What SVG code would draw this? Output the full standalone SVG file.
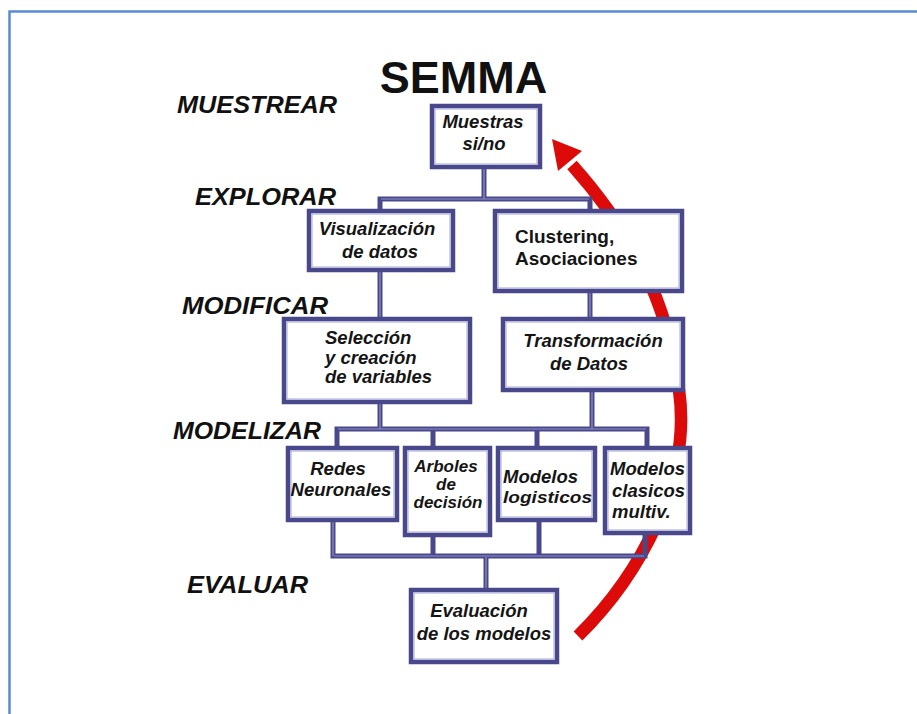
<svg xmlns="http://www.w3.org/2000/svg" width="917" height="714" viewBox="0 0 917 714">
<style>
.box{fill:#fff;stroke:#48488a;stroke-width:4.5}
.inner{fill:none;stroke:#a4a4d8;stroke-width:1}
.con{fill:none;stroke:#48488a;stroke-width:5;stroke-linecap:square}
.conl{fill:none;stroke:#9090cc;stroke-width:1.2}
.t{font-family:"Liberation Sans",Arial,sans-serif;font-weight:bold;font-style:italic;font-size:18.5px;fill:#151515}
.s{font-size:17px}
.c{text-anchor:middle}
.n{font-style:normal;font-size:19px}
.stage{font-family:"Liberation Sans",Arial,sans-serif;font-weight:bold;font-style:italic;font-size:24px;fill:#111}
</style>
<rect x="9.5" y="11.5" width="930" height="730" fill="#fff" stroke="#5b8bd2" stroke-width="2.5"/>
<text x="463.5" y="93" font-family="'Liberation Sans',Arial,sans-serif" font-weight="bold" font-size="45" text-anchor="middle" fill="#111">SEMMA</text>
<g id="stages">
<text class="stage" x="177" y="113" textLength="160" lengthAdjust="spacingAndGlyphs">MUESTREAR</text>
<text class="stage" x="195" y="205" textLength="141" lengthAdjust="spacingAndGlyphs">EXPLORAR</text>
<text class="stage" x="182" y="314" textLength="146" lengthAdjust="spacingAndGlyphs">MODIFICAR</text>
<text class="stage" x="173" y="439" textLength="148" lengthAdjust="spacingAndGlyphs">MODELIZAR</text>
<text class="stage" x="187" y="593" textLength="121" lengthAdjust="spacingAndGlyphs">EVALUAR</text>
</g>
<g id="cycle-arrow">
<path d="M578,636 C640,575 692,480 679,390 C668,300 630,230 572,165" fill="none" stroke="#dd0a0a" stroke-width="12.5"/>
<polygon points="552,139 582,151 558,171" fill="#dd0a0a"/>
</g>
<g id="connectors">
<path class="con" d="M484,167 V199 M380,199 H590 M380,199 V210 M590,199 V210 M380,270 V318 M590,290 V318 M380,402 V429 M592,390 V429 M337,429 H647 M337,429 V448 M433,429 V448 M537,429 V448 M647,429 V448 M333,520 V556 M433,535 V556 M539,520 V556 M645,533 V556 M333,556 H645 M486,556 V590"/>
<path class="conl" d="M484,168 V199 M381,199 H589 M380,271 V317 M590,291 V317 M380,403 V429 M592,391 V429 M338,429 H646 M333,521 V556 M334,556 H644 M486,557 V589"/>
</g>
<g id="n-muestras">
<rect class="box" x="432" y="106" width="108" height="61"/>
<rect class="inner" x="435" y="109" width="102" height="55"/>
<text class="t c" x="483" y="128">Muestras</text>
<text class="t c" x="484" y="150">si/no</text>
</g>
<g id="n-visualizacion">
<rect class="box" x="309" y="211" width="144" height="59"/>
<rect class="inner" x="312" y="214" width="138" height="53"/>
<text class="t c" x="377" y="235">Visualización</text>
<text class="t c" x="380" y="258">de datos</text>
</g>
<g id="n-clustering">
<rect class="box" x="495" y="211" width="187" height="80"/>
<rect class="inner" x="498" y="214" width="181" height="74"/>
<text class="t n" x="515" y="243">Clustering,</text>
<text class="t n" x="515" y="265">Asociaciones</text>
</g>
<g id="n-seleccion">
<rect class="box" x="284" y="319" width="186" height="83"/>
<rect class="inner" x="287" y="322" width="180" height="77"/>
<text class="t" x="325" y="344">Selección</text>
<text class="t" x="325" y="364">y creación</text>
<text class="t" x="325" y="383">de variables</text>
</g>
<g id="n-transformacion">
<rect class="box" x="503" y="319" width="180" height="71"/>
<rect class="inner" x="506" y="322" width="174" height="65"/>
<text class="t c" x="593" y="347">Transformación</text>
<text class="t c" x="589" y="370">de Datos</text>
</g>
<g id="n-redes">
<rect class="box" x="288" y="448" width="109" height="72"/>
<rect class="inner" x="291" y="451" width="103" height="66"/>
<text class="t c" x="338" y="475">Redes</text>
<text class="t c" x="341" y="496">Neuronales</text>
</g>
<g id="n-arboles">
<rect class="box" x="405" y="448" width="85" height="87"/>
<rect class="inner" x="408" y="451" width="79" height="81"/>
<text class="t s c" x="446" y="472">Arboles</text>
<text class="t s c" x="446" y="490">de</text>
<text class="t s c" x="448" y="508">decisión</text>
</g>
<g id="n-logisticos">
<rect class="box" x="498" y="448" width="97" height="72"/>
<rect class="inner" x="501" y="451" width="91" height="66"/>
<text class="t" x="503" y="483">Modelos</text>
<text class="t s" x="503" y="503" textLength="89" lengthAdjust="spacingAndGlyphs">logisticos</text>
</g>
<g id="n-clasicos">
<rect class="box" x="605" y="448" width="85" height="85"/>
<rect class="inner" x="608" y="451" width="79" height="79"/>
<text class="t" x="610" y="475">Modelos</text>
<text class="t" x="612" y="497">clasicos</text>
<text class="t" x="612" y="518">multiv.</text>
</g>
<g id="n-evaluacion">
<rect class="box" x="411" y="590" width="146" height="72"/>
<rect class="inner" x="414" y="593" width="140" height="66"/>
<text class="t c" x="479" y="617">Evaluación</text>
<text class="t c" x="484" y="640">de los modelos</text>
</g>
</svg>
